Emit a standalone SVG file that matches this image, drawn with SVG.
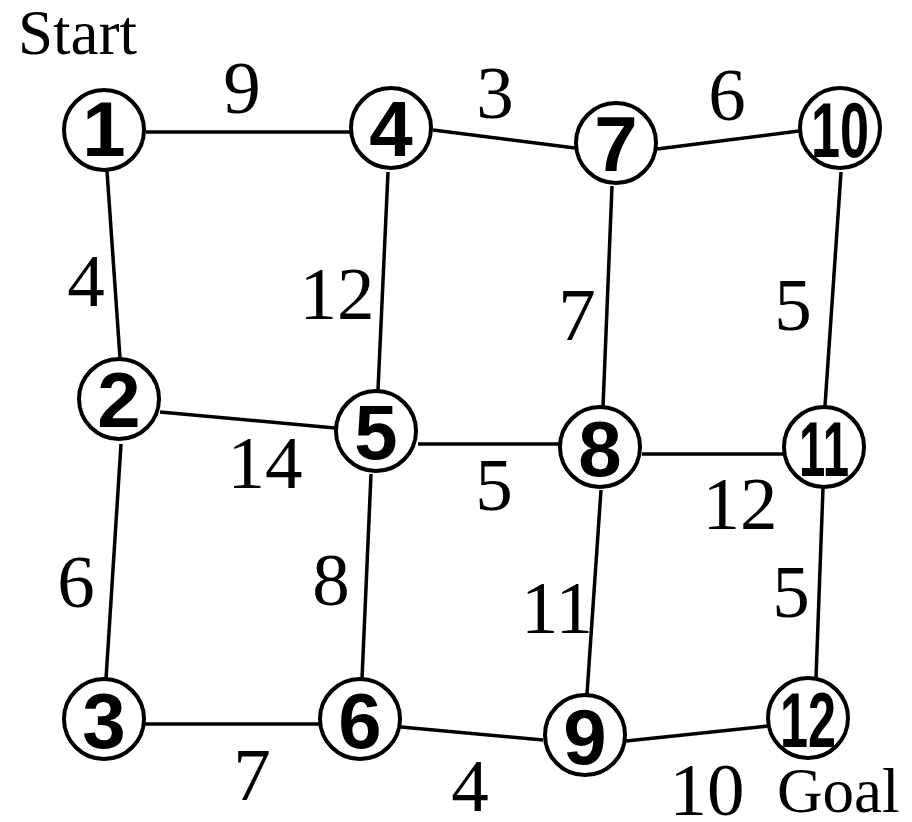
<svg xmlns="http://www.w3.org/2000/svg" width="912" height="822" viewBox="0 0 912 822">
<style>
.n{fill:#fff;stroke:#000;stroke-width:4}
.nl{font-family:"Liberation Sans",Arial,sans-serif;font-weight:bold;font-size:78px;text-anchor:middle;fill:#000}
.e{stroke:#000;stroke-width:3.5;fill:none}
.w{font-family:"Liberation Serif","Times New Roman",serif;font-size:75px;text-anchor:middle;fill:#000}
.t{font-family:"Liberation Serif","Times New Roman",serif;font-size:63px;fill:#000}
</style>
<rect width="912" height="822" fill="#fff"/>
<g id="edges">
<line class="e" x1="146" y1="132" x2="350" y2="132"/>
<line class="e" x1="433" y1="130" x2="575" y2="148"/>
<line class="e" x1="657" y1="149" x2="799" y2="131"/>
<line class="e" x1="107" y1="171" x2="120" y2="358"/>
<line class="e" x1="388" y1="172" x2="378" y2="390"/>
<line class="e" x1="612" y1="186" x2="603" y2="407"/>
<line class="e" x1="841" y1="172" x2="825" y2="406"/>
<line class="e" x1="160" y1="412" x2="335" y2="428"/>
<line class="e" x1="418" y1="444" x2="559" y2="444"/>
<line class="e" x1="642" y1="454" x2="783" y2="454"/>
<line class="e" x1="121" y1="444" x2="106" y2="679"/>
<line class="e" x1="371" y1="474" x2="362" y2="679"/>
<line class="e" x1="601" y1="490" x2="587" y2="694"/>
<line class="e" x1="823" y1="488" x2="816" y2="678"/>
<line class="e" x1="145" y1="724" x2="319" y2="724"/>
<line class="e" x1="401" y1="727" x2="543" y2="740"/>
<line class="e" x1="626" y1="741" x2="768" y2="726"/>
</g>
<g id="edge-labels">
<text class="w" x="242" y="113">9</text>
<text class="w" x="495" y="118">3</text>
<text class="w" x="727" y="120">6</text>
<text class="w" x="86" y="306">4</text>
<text class="w" x="337" y="319">12</text>
<text class="w" x="577" y="340">7</text>
<text class="w" x="793" y="330">5</text>
<text class="w" x="265" y="488">14</text>
<text class="w" x="494" y="510">5</text>
<text class="w" x="740" y="529">12</text>
<text class="w" x="76" y="607">6</text>
<text class="w" x="331" y="605">8</text>
<text class="w" x="557" y="633">11</text>
<text class="w" x="791" y="617">5</text>
<text class="w" x="252" y="800">7</text>
<text class="w" x="470" y="811">4</text>
<text class="w" x="707" y="815">10</text>
</g>
<text class="t" x="18" y="54">Start</text>
<text class="t" x="777" y="812">Goal</text>
<g id="node1"><circle class="n" cx="104" cy="130" r="40"/><text class="nl" x="104" y="156">1</text></g>
<g id="node4"><circle class="n" cx="391" cy="128" r="40"/><text class="nl" x="391" y="156">4</text></g>
<g id="node7"><circle class="n" cx="616" cy="143" r="40"/><text class="nl" x="616" y="171">7</text></g>
<g id="node10"><circle class="n" cx="840" cy="128" r="40"/><text class="nl" x="840" y="157" textLength="58" lengthAdjust="spacingAndGlyphs">10</text></g>
<g id="node2"><circle class="n" cx="119" cy="399" r="40"/><text class="nl" x="119" y="427">2</text></g>
<g id="node5"><circle class="n" cx="376" cy="431" r="40"/><text class="nl" x="376" y="459">5</text></g>
<g id="node8"><circle class="n" cx="600" cy="447" r="40"/><text class="nl" x="600" y="476">8</text></g>
<g id="node11"><circle class="n" cx="824" cy="447" r="40"/><text class="nl" x="824" y="476" textLength="50" lengthAdjust="spacingAndGlyphs">11</text></g>
<g id="node3"><circle class="n" cx="104" cy="719" r="40"/><text class="nl" x="104" y="748">3</text></g>
<g id="node6"><circle class="n" cx="360" cy="719" r="40"/><text class="nl" x="360" y="748">6</text></g>
<g id="node9"><circle class="n" cx="585" cy="735" r="40"/><text class="nl" x="585" y="764">9</text></g>
<g id="node12"><circle class="n" cx="808" cy="718" r="40"/><text class="nl" x="808" y="747" textLength="56" lengthAdjust="spacingAndGlyphs">12</text></g>
</svg>
